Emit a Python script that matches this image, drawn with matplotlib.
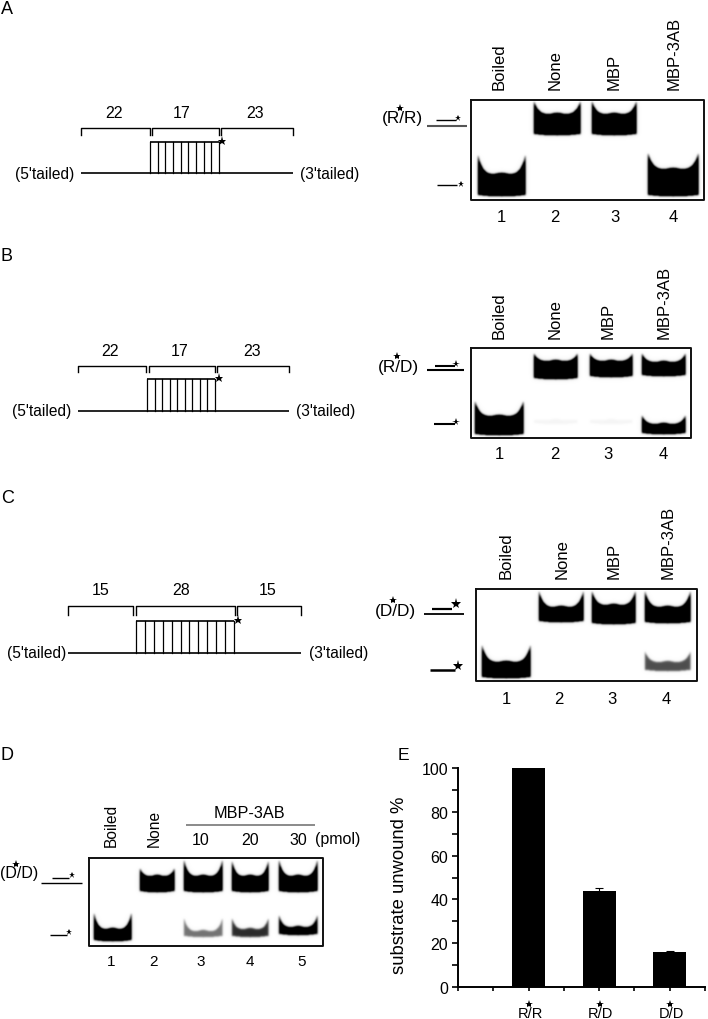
import numpy as np
from matplotlib import pyplot as plt

plt.rcParams['font.family'] = ['Liberation Sans', 'DejaVu Sans']

W, H = 708, 1020

# bar chart values (panel E)
SUBSTRATES = ['R/R', 'R/D', 'D/D']
UNWOUND = [100, 44, 16]
UNWOUND_ERR = [0, 1.2, 0.4]
Y_TICKS = [0, 20, 40, 60, 80, 100]

# band strength per lane
GEL_A_UPPER = [0, 1, 1, 0]
GEL_A_LOWER = [1, 0, 0, 1]
GEL_B_UPPER = [0, 1, 1, 1]
GEL_B_LOWER = [1, 0.03, 0.03, 1]
GEL_C_UPPER = [0, 1, 1, 1]
GEL_C_LOWER = [1, 0, 0, 0.5]
GEL_D_UPPER = [0, 1, 1, 1, 1]
GEL_D_LOWER = [1, 0, 0.4, 0.6, 0.85]

LANES_4 = ['Boiled', 'None', 'MBP', 'MBP-3AB']
LANES_D = ['Boiled', 'None']
DOSES = ['10', '20', '30']
LENGTHS_AB = ['22', '17', '23']
LENGTHS_C = ['15', '28', '15']

fig = plt.figure(figsize=(W / 100, H / 100), dpi=100)
ax = fig.add_axes([0, 0, 1, 1])
ax.axis('off')


def blur(img, sigma):
    r = int(3 * sigma) + 1
    k = np.exp(-0.5 * (np.arange(-r, r + 1) / sigma) ** 2)
    k /= k.sum()
    img = np.apply_along_axis(lambda m: np.convolve(m, k, mode='same'), 0, img)
    return np.apply_along_axis(lambda m: np.convolve(m, k, mode='same'), 1, img)


def band_mask(xx, yy, x0, x1, top, edge, bottom):
    u = (xx - x0) / (x1 - x0)
    t = top - (top - edge) * np.abs(2 * u - 1) ** 5
    t = t - 1.5 * np.exp(-((u - 0.5) / 0.12) ** 2)
    b = bottom - 1.5 * np.abs(2 * u - 1) ** 2
    inside = (u >= 0) & (u <= 1) & (yy >= t) & (yy <= b)
    return inside.astype(float)


def draw_gel(box, lanes, upper_geom, lower_geom, upper, lower):
    x0, y0, x1, y1 = box
    xs = np.arange(x0, x1, 0.5)
    ys = np.arange(y0, y1, 0.5)
    xx, yy = np.meshgrid(xs, ys)
    dark = np.zeros_like(xx)
    for (lx0, lx1), ug, lg, us, ls in zip(lanes, upper_geom, lower_geom, upper, lower):
        if us > 0:
            dark = np.maximum(dark, us * band_mask(xx, yy, lx0, lx1, *ug))
        if ls > 0:
            dark = np.maximum(dark, ls * band_mask(xx, yy, lx0, lx1, *lg))
    # sharp core plus a faint halo round each band
    dark = blur(dark, 1.8) * 1.25 + blur(dark, 5) * 0.15
    dark = np.clip(dark, 0, 1)
    ax.imshow(1 - dark, cmap='gray', vmin=0, vmax=1, extent=(x0, x1, y1, y0),
              aspect='auto', interpolation='bilinear', zorder=1)
    ax.plot([x0, x1, x1, x0, x0], [y0, y0, y1, y1, y0], color='#111111', lw=1.4, zorder=3)


def star(x, y, size=6):
    ax.plot([x], [y], marker='*', ms=size, color='black', mew=0, zorder=4)


def line(x0, x1, y, lw=1.0, color='black'):
    ax.plot([x0, x1], [y, y], color=color, lw=lw, solid_capstyle='butt', zorder=3)


def draw_schematic(brackets, labels, label_y, label_xs, top, drop, rect, n_rungs, star_xy, left_x, right_x):
    for (b0, b1) in brackets:
        ax.plot([b0, b0, b1, b1], [drop, top, top, drop], color='black', lw=1.0, zorder=3)
    for lab, lx in zip(labels, label_xs):
        ax.text(lx, label_y, lab, fontsize=11.5, ha='center', va='center')
    rx0, rx1, ry0, ry1 = rect
    line(brackets[0][0], brackets[2][1], ry1, lw=1.2)
    line(rx0, rx1, ry0, lw=1.2)
    for vx in np.linspace(rx0, rx1, n_rungs):
        ax.plot([vx, vx], [ry0, ry1], color='black', lw=0.9, zorder=3)
    star(*star_xy, size=6.5)
    ax.text(left_x, ry1, "(5'tailed)", fontsize=11.2, ha='right', va='center')
    ax.text(right_x, ry1, "(3'tailed)", fontsize=11.2, ha='left', va='center')


def lane_text(names, xs, bottom, size=12):
    for name, x in zip(names, xs):
        ax.text(x, bottom, name, rotation=90, fontsize=size, ha='center', va='bottom')


def lane_numbers(xs, y, size=12):
    for i, x in enumerate(xs):
        ax.text(x, y, str(i + 1), fontsize=size, ha='center', va='center')


def panel_letter(letter, x, y):
    ax.text(x, y, letter, fontsize=13, ha='left', va='center')


def substrate_label(text, cx, y, star_xy, size=12.4):
    ax.text(cx, y, text, fontsize=size, ha='center', va='center')
    star(*star_xy, size=6)


# panel A
panel_letter('A', 1, 9)
draw_schematic([(81, 150), (152, 219), (221, 293)], LENGTHS_AB, 114, [114, 182, 255], 129, 136,
               (150, 219, 143, 174), 10, (222, 142), 74, 300)
draw_gel((471, 101, 704, 201), [(478, 525), (534, 580), (592, 636), (648, 698)],
         [None, (115, 103, 136), (115, 103, 136), None],
         [(175, 157, 197), None, None, (170, 155, 197)], GEL_A_UPPER, GEL_A_LOWER)
lane_text(LANES_4, [499, 555, 614, 674], 90)
lane_numbers([501, 555, 615, 673], 217)
substrate_label('(R/R)', 402, 119, (400, 109))
line(436, 456, 121)
star(458, 119, 4.5)
line(427, 467, 127, lw=1.5, color='#555555')
line(437, 457, 186)
star(461, 185, 4.5)

# panel B
panel_letter('B', 1, 257)
draw_schematic([(78, 146), (149, 215), (217, 289)], LENGTHS_AB, 352, [110, 180, 252], 367, 373,
               (147, 215, 380, 412), 10, (219, 379), 71, 296)
draw_gel((471, 349, 691, 439), [(475, 523), (534, 577), (590, 632), (642, 685)],
         [None, (362, 355, 380), (362, 355, 378), (363, 355, 377)],
         [(417, 403, 436), (421, 421, 425), (421, 421, 425), (425, 417, 435)],
         GEL_B_UPPER, GEL_B_LOWER)
lane_text(LANES_4, [499, 555, 608, 664], 339)
lane_numbers([499, 555, 608, 663], 455)
substrate_label('(R/D)', 398, 368, (397, 357))
line(435, 455, 367, lw=1.5)
star(456, 365, 5.5)
line(427, 464, 371, lw=1.5)
line(434, 455, 425, lw=1.5)
star(456, 423, 5.5)

# panel C
panel_letter('C', 1, 499)
draw_schematic([(68, 133), (136, 235), (237, 301)], LENGTHS_C, 591, [101, 181, 268], 607, 616,
               (136, 234, 622, 654), 12, (238, 621), 66, 309)
draw_gel((476, 590, 697, 682), [(482, 530), (539, 583), (592, 635), (645, 690)],
         [None, (608, 593, 623), (606, 593, 625), (608, 593, 624)],
         [(663, 647, 679), None, None, (663, 653, 672)], GEL_C_UPPER, GEL_C_LOWER)
lane_text(LANES_4, [506, 562, 614, 668], 579)
lane_numbers([506, 559, 612, 666], 700)
substrate_label('(D/D)', 395, 612, (393, 601))
line(432, 452, 610, lw=1.6)
star(456, 605, 8)
line(424, 464, 615, lw=1.3)
line(430, 455, 671, lw=1.8)
star(458, 667, 8)

# panel D
panel_letter('D', 0, 756)
draw_gel((89, 859, 323, 947), [(94, 131), (140, 174), (184, 222), (232, 268), (279, 317)],
         [None, (877, 870, 893), (877, 862, 893), (877, 863, 893), (877, 862, 893)],
         [(930, 915, 942), None, (932, 920, 938), (930, 920, 938), (928, 917, 936)],
         GEL_D_UPPER, GEL_D_LOWER)
lane_text(LANES_D, [111, 154], 847, size=11.2)
ax.text(249, 814, 'MBP-3AB', fontsize=11.7, ha='center', va='center')
line(186, 315, 826, lw=1.2, color='#777777')
for dose, x in zip(DOSES, [201, 250, 298]):
    ax.text(x, 841, dose, fontsize=11.5, ha='center', va='center')
ax.text(338, 840, '(pmol)', fontsize=11.5, ha='center', va='center')
lane_numbers([111, 154, 201, 250, 302], 962, size=11)
substrate_label('(D/D)', 19, 874, (16, 865), size=11.5)
line(52, 69, 879)
star(72, 876, 5)
line(41, 82, 884)
line(50, 67, 936)
star(69, 933, 5)

ax.set_xlim(0, W)
ax.set_ylim(H, 0)

# panel E: real axes
ax.text(398, 756, 'E', fontsize=12.6, ha='left', va='center')
bax = fig.add_axes([458 / W, 1 - 988 / H, (705 - 458) / W, (988 - 769) / H])
bax.patch.set_alpha(0)
bax.bar([1, 2, 3], UNWOUND, width=0.47, color='black', yerr=UNWOUND_ERR,
        error_kw=dict(ecolor='black', elinewidth=0.8, capsize=3, capthick=0.8))
bax.set_xlim(0, 3.5)
bax.set_ylim(0, 100)
bax.set_yticks(Y_TICKS)
bax.set_yticks(range(10, 100, 20), minor=True)
bax.set_xticks(np.arange(0, 3.51, 0.5))
bax.set_xticklabels([])
bax.tick_params(axis='y', which='both', direction='out', length=4, width=1.2, labelsize=11.5, pad=3)
bax.tick_params(axis='x', direction='out', length=3, width=1.2)
for side in ['top', 'right']:
    bax.spines[side].set_visible(False)
for side in ['left', 'bottom']:
    bax.spines[side].set_linewidth(1.4)
bax.set_ylabel('substrate unwound %', fontsize=13.3)
bax.yaxis.set_label_coords(-0.202, 0.47)
for i, name in enumerate(SUBSTRATES):
    ax.text(530 + i * 70.5, 1014, name, fontsize=10.5, ha='center', va='center')
    star(529 + i * 70.5, 1005, 6)

fig.savefig('out.png', dpi=100)
